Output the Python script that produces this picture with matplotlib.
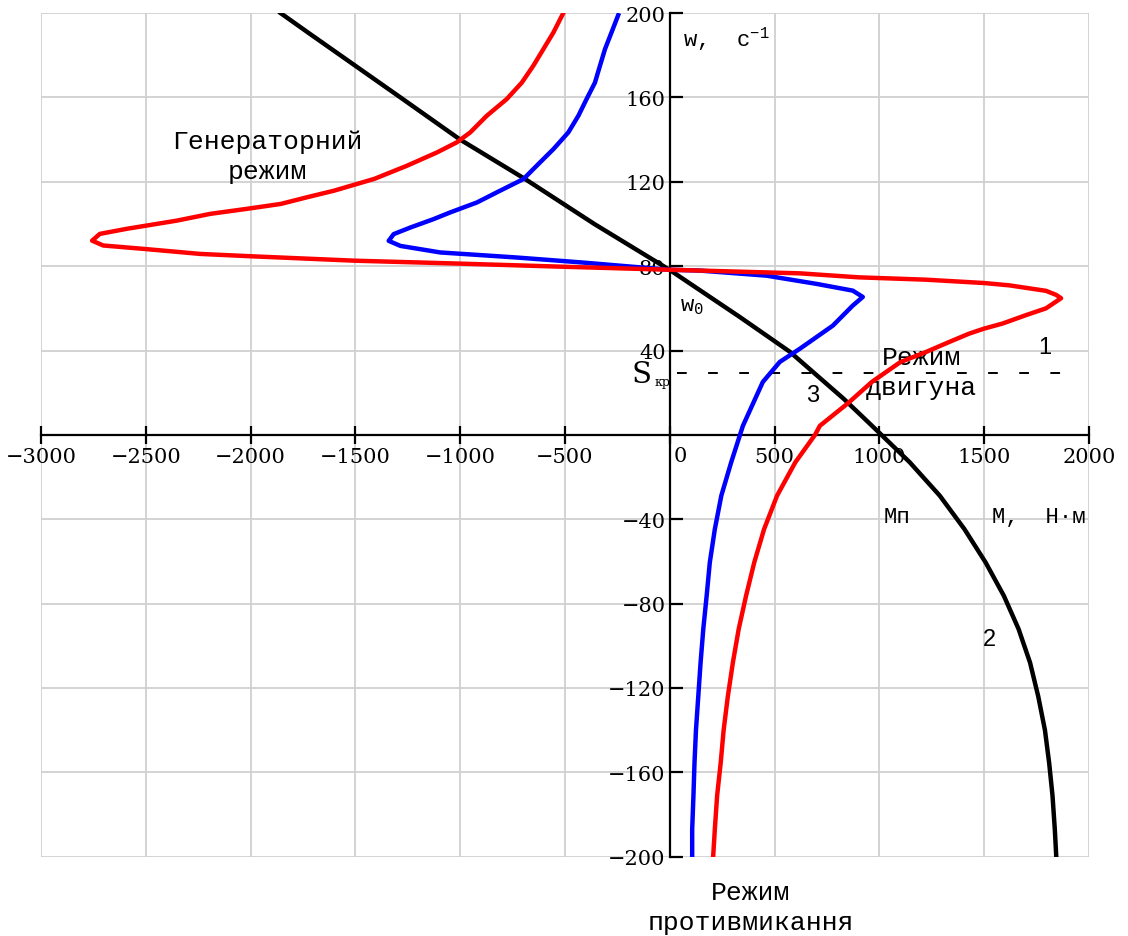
import matplotlib
matplotlib.use('Agg')
import matplotlib.pyplot as plt

plt.rcParams['mathtext.default'] = 'regular'

# механічні характеристики: кутова швидкість w (с^-1) та момент M (Н·м)
w_1 = [200, 190.8, 182.9, 175, 167, 159.2, 151.3, 143.4, 138.7, 133.9, 127.6,
       121.4, 115.8, 112.7, 109.5, 107.2, 104.8, 101.6, 97.7, 95.3, 92.1, 89.8,
       88.2, 85.8, 84.7, 82.6, 81.2, 79.7, 78.3, 76.6, 74.7, 73.6, 72.0, 70.9,
       68.3, 66.4, 64.8, 63.2, 60.0, 56.8, 52.8, 50.4, 48.0, 44.0, 39.2, 34.5,
       25.1, 15.0, 4.3, 0, -13, -28.8, -44.7, -60.5, -76.3, -92, -108, -124,
       -140, -155.5, -171, -187, -200]
M_1 = [-508, -555, -603, -651, -706, -778, -873, -952, -1016, -1111, -1254,
       -1409, -1601, -1729, -1856, -2016, -2192, -2351, -2591, -2719, -2756,
       -2703, -2511, -2240, -2000, -1505, -1000, -500, 0, 620, 901, 1220, 1500,
       1620, 1795, 1843, 1867, 1843, 1795, 1700, 1588, 1500, 1428, 1332, 1220,
       1100, 964, 850, 716, 693, 599, 512, 450, 403, 364, 329, 301, 277, 257,
       243, 226, 215, 207]

w_3 = [199, 190.8, 182.9, 175, 167, 159.2, 151.3, 143.4, 135.5, 127.6, 121.3,
       115, 110.2, 105.5, 102.3, 98.3, 95.2, 92, 89.6, 86.5, 84.1, 81.7, 79.7,
       78.3, 77.9, 75.5, 71.6, 68.4, 65.4, 61.3, 51.8, 40.8, 34.6, 25.1, 4.3,
       -13, -28.8, -44.7, -60.5, -76.3, -92, -108, -124, -140, -155.5, -171,
       -187, -200]
M_3 = [-246, -278, -309, -333, -357, -397, -436, -484, -555, -635, -698, -825,
       -920, -1047, -1127, -1238, -1317, -1341, -1285, -1095, -730, -413, -175,
       0, 143, 461, 700, 873, 921, 873, 778, 620, 525, 444, 349, 293, 246, 215,
       191, 176, 160, 147, 136, 125, 118, 113, 107, 107]

w_2 = [200, 190, 175, 160, 140, 121.3, 100, 78.2, 55.9, 39.4, 17.1, 6.2, 0,
       -13, -28.8, -44.7, -60.5, -76.3, -92, -108, -124, -140, -155.5, -171,
       -187, -200]
M_2 = [-1857, -1715, -1500, -1285, -1000, -690, -360, 0, 334, 573, 830, 945,
       1010, 1145, 1288, 1406, 1507, 1594, 1664, 1719, 1758, 1790, 1810, 1826,
       1837, 1844]

s_kr = 29.2  # критичне ковзання
x_ticks = [-3000, -2500, -2000, -1500, -1000, -500, 0, 500, 1000, 1500, 2000]
y_ticks = [-200, -160, -120, -80, -40, 40, 80, 120, 160, 200]

MONO = 'Liberation Mono'
SERIF = 'DejaVu Serif'

fig = plt.figure(figsize=(11.28, 9.37), dpi=100)
ax = fig.add_axes([0.0363, 0.0846, 0.9291, 0.9004])
ax.set_xlim(-3000, 2000)
ax.set_ylim(-200, 200)

# сітка
for x in x_ticks:
    ax.axvline(x, color='#d0d0d0', lw=1.3, zorder=0)
for y in y_ticks + [0]:
    ax.axhline(y, color='#d0d0d0', lw=1.3, zorder=0)

for s in ['top', 'right']:
    ax.spines[s].set_visible(False)
ax.spines['left'].set_position(('data', 0))
ax.spines['bottom'].set_position(('data', 0))
ax.spines['left'].set_linewidth(1.6)
ax.spines['bottom'].set_linewidth(1.6)
ax.spines['left'].set_zorder(1)
ax.spines['bottom'].set_zorder(1)

ax.set_xticks(x_ticks)
ax.set_xticklabels(['\u2212%d' % -v if v < 0 else ('' if v == 0 else str(v))
                    for v in x_ticks])
ax.set_yticks(y_ticks)
ax.set_yticklabels(['\u2212%d' % -v if v < 0 else str(v) for v in y_ticks])
ax.tick_params(axis='x', direction='inout', length=13, width=1.6, pad=2,
               labelsize=15)
ax.tick_params(axis='y', direction='in', length=9, width=1.6, pad=3,
               labelsize=15)
for lab in ax.get_xticklabels() + ax.get_yticklabels():
    lab.set_family(SERIF)
ax.text(48, -5.5, '0', family=SERIF, fontsize=15, ha='center', va='top')

# криві
ax.plot(M_2, w_2, color='black', lw=3.2, zorder=3)
ax.plot(M_3, w_3, color='#0000ff', lw=3.2, zorder=4)
ax.plot(M_1, w_1, color='#ff0000', lw=3.2, zorder=5)

ax.plot([35, 1930], [s_kr, s_kr], color='black', lw=1.4,
        linestyle=(0, (5, 11)), zorder=2)

# підписи
ax.text(62, 188, 'w,  с$^{-1}$', family=MONO, fontsize=16, va='center')
ax.text(-1918, 132.3, 'Генераторний\nрежим', family=MONO, fontsize=19,
        ha='center', va='center', linespacing=1.3)
ax.text(48, 61.2, 'w$_0$', family=MONO, fontsize=16, va='center')
ax.text(-182, 29, 'S', family=SERIF, fontsize=21, va='center')
ax.text(-72, 25.2, 'кр', family=SERIF, fontsize=9, va='center')
ax.text(1202, 29.9, 'Режим\nдвигуна', family=MONO, fontsize=19,
        ha='center', va='center', linespacing=1.3)
ax.text(1789, 41.7, '1', family='Liberation Sans', fontsize=17,
        ha='center', va='center')
ax.text(682, 19, '3', family='Liberation Sans', fontsize=17,
        ha='center', va='center')
ax.text(1527, -96.7, '2', family='Liberation Sans', fontsize=17,
        ha='center', va='center')
ax.text(1083, -38.9, 'Mп', family=MONO, fontsize=16,
        ha='center', va='center')
ax.text(1536, -38.9, 'M,  H·м', family=MONO, fontsize=16, va='center')
ax.text(386, -223.8, 'Режим\nпротивмикання', family=MONO, fontsize=19,
        ha='center', va='center', linespacing=1.3, clip_on=False)

fig.savefig('out.png', dpi=100)
